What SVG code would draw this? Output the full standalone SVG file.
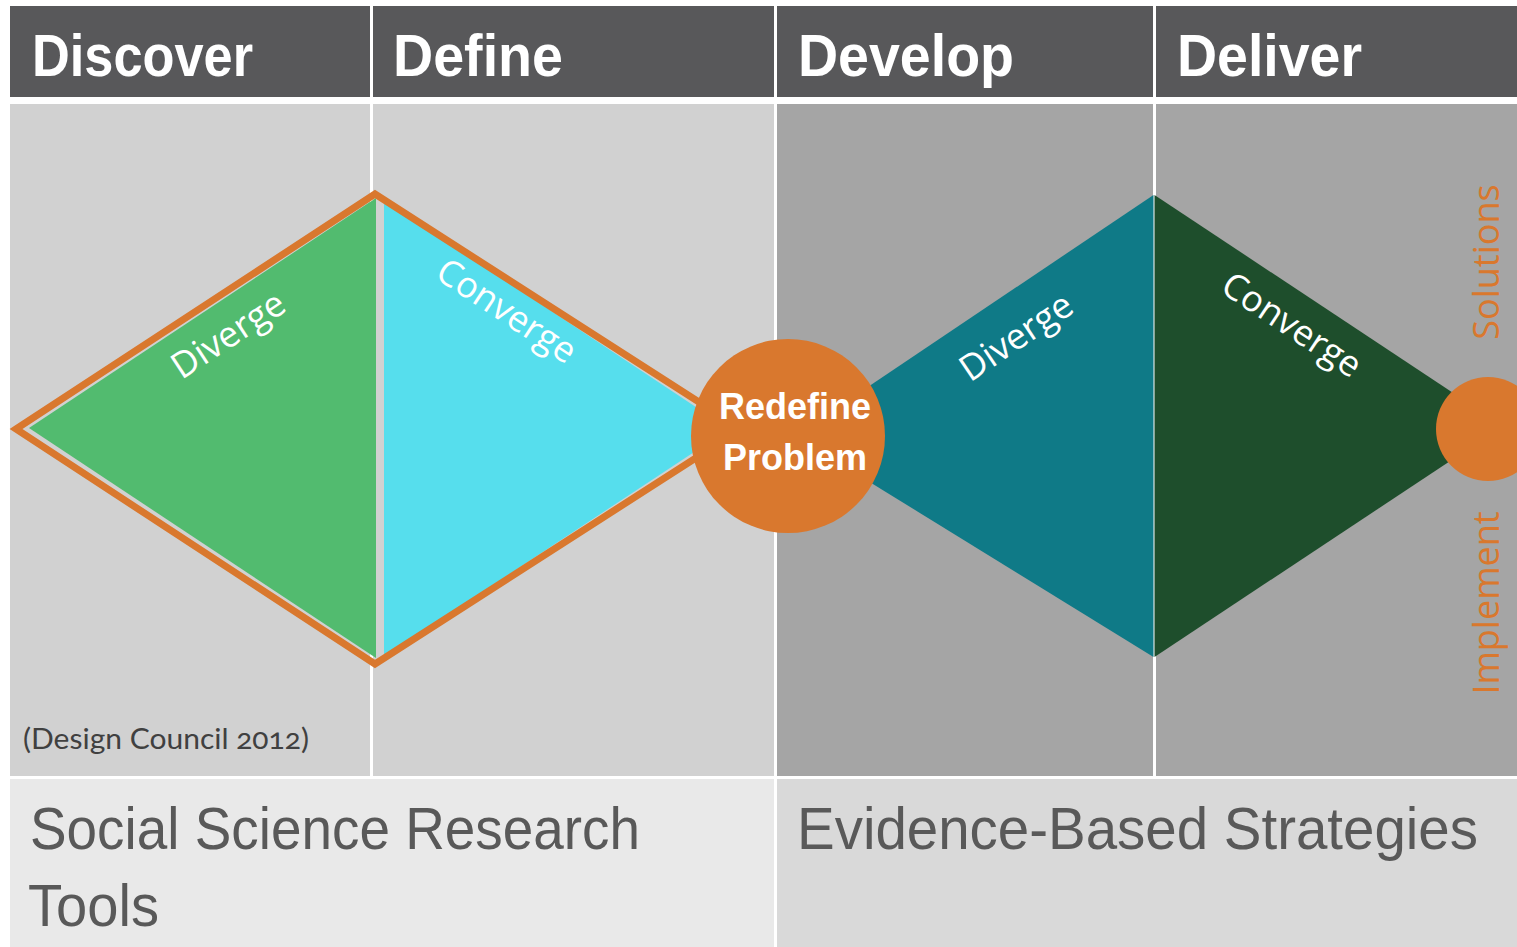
<svg xmlns="http://www.w3.org/2000/svg" width="1517" height="947" viewBox="0 0 1517 947">
<style>
.hdr{fill:#58585a}
.hdrt{font-family:"Liberation Sans",Arial,sans-serif;font-weight:bold;font-size:60px;fill:#ffffff}
.lite{fill:#d1d1d1}
.dark{fill:#a5a5a5}
.lbl{font-family:"Open Sans","Noto Sans",sans-serif;font-size:36px;fill:#ffffff;text-anchor:middle}
.side{font-family:"Open Sans","Noto Sans",sans-serif;font-size:36px;fill:#d9782e;text-anchor:middle}
.bot{font-family:"Liberation Sans",Arial,sans-serif;font-size:59px;fill:#595959}
.circt{font-family:"Liberation Sans",Arial,sans-serif;font-weight:bold;font-size:36px;fill:#ffffff;text-anchor:middle}
</style>
<rect width="1517" height="947" fill="#ffffff"/>
<g id="header">
<rect class="hdr" x="10" y="6" width="360" height="91"/>
<rect class="hdr" x="373" y="6" width="401" height="91"/>
<rect class="hdr" x="777" y="6" width="376" height="91"/>
<rect class="hdr" x="1156" y="6" width="361" height="91"/>
<text class="hdrt" x="32" y="76" textLength="221" lengthAdjust="spacingAndGlyphs">Discover</text>
<text class="hdrt" x="393" y="76" textLength="170" lengthAdjust="spacingAndGlyphs">Define</text>
<text class="hdrt" x="798" y="76" textLength="216" lengthAdjust="spacingAndGlyphs">Develop</text>
<text class="hdrt" x="1177" y="76" textLength="185" lengthAdjust="spacingAndGlyphs">Deliver</text>
</g>
<g id="body">
<rect class="lite" x="10" y="104" width="360" height="672"/>
<rect class="lite" x="373" y="104" width="401" height="672"/>
<rect class="dark" x="777" y="104" width="376" height="672"/>
<rect class="dark" x="1156" y="104" width="361" height="672"/>
<text x="23" y="749" font-family="Lato,'Open Sans',sans-serif" font-size="29" fill="#404040" style="font-variant-numeric:oldstyle-nums" textLength="286" lengthAdjust="spacingAndGlyphs">(Design Council 2012)</text>
</g>
<g id="footer">
<rect x="10" y="779" width="764" height="168" fill="#e9e9e9"/>
<rect x="777" y="779" width="740" height="168" fill="#d9d9d9"/>
<text class="bot" x="30" y="849" textLength="610" lengthAdjust="spacingAndGlyphs">Social Science Research</text>
<text class="bot" x="28" y="926" textLength="131" lengthAdjust="spacingAndGlyphs">Tools</text>
<text class="bot" x="797" y="849" textLength="681" lengthAdjust="spacingAndGlyphs">Evidence-Based Strategies</text>
</g>
<g id="diamond1">
<polygon points="29,428 376,198 376,658" fill="#52bb6f"/>
<polygon points="384,200 729,429 384,657" fill="#56deed"/>
<polygon points="16,429 375,194 741,429 375,664" fill="none" stroke="#d9782e" stroke-width="7" stroke-linejoin="miter"/>
<text class="lbl" transform="translate(235,345) rotate(-33.4)">Diverge</text>
<text class="lbl" transform="translate(500,321) rotate(33.4)">Converge</text>
</g>
<g id="diamond2">
<polygon points="795,436 1153.5,195 1153.5,657" fill="#0f7a87"/>
<polygon points="1154.5,195 1503,426 1154.5,657" fill="#1e4e2c"/>
<text class="lbl" transform="translate(1023,347) rotate(-34)">Diverge</text>
<text class="lbl" transform="translate(1285,335) rotate(33.5)">Converge</text>
</g>
<g id="redefine">
<circle cx="788" cy="436" r="97" fill="#d9782e"/>
<text class="circt" x="795" y="419">Redefine</text>
<text class="circt" x="795" y="470">Problem</text>
</g>
<g id="end">
<circle cx="1488" cy="429" r="52" fill="#d9782e"/>
<text class="side" transform="translate(1499,262) rotate(-90)">Solutions</text>
<text class="side" transform="translate(1499,603) rotate(-90)">Implement</text>
</g>
</svg>
